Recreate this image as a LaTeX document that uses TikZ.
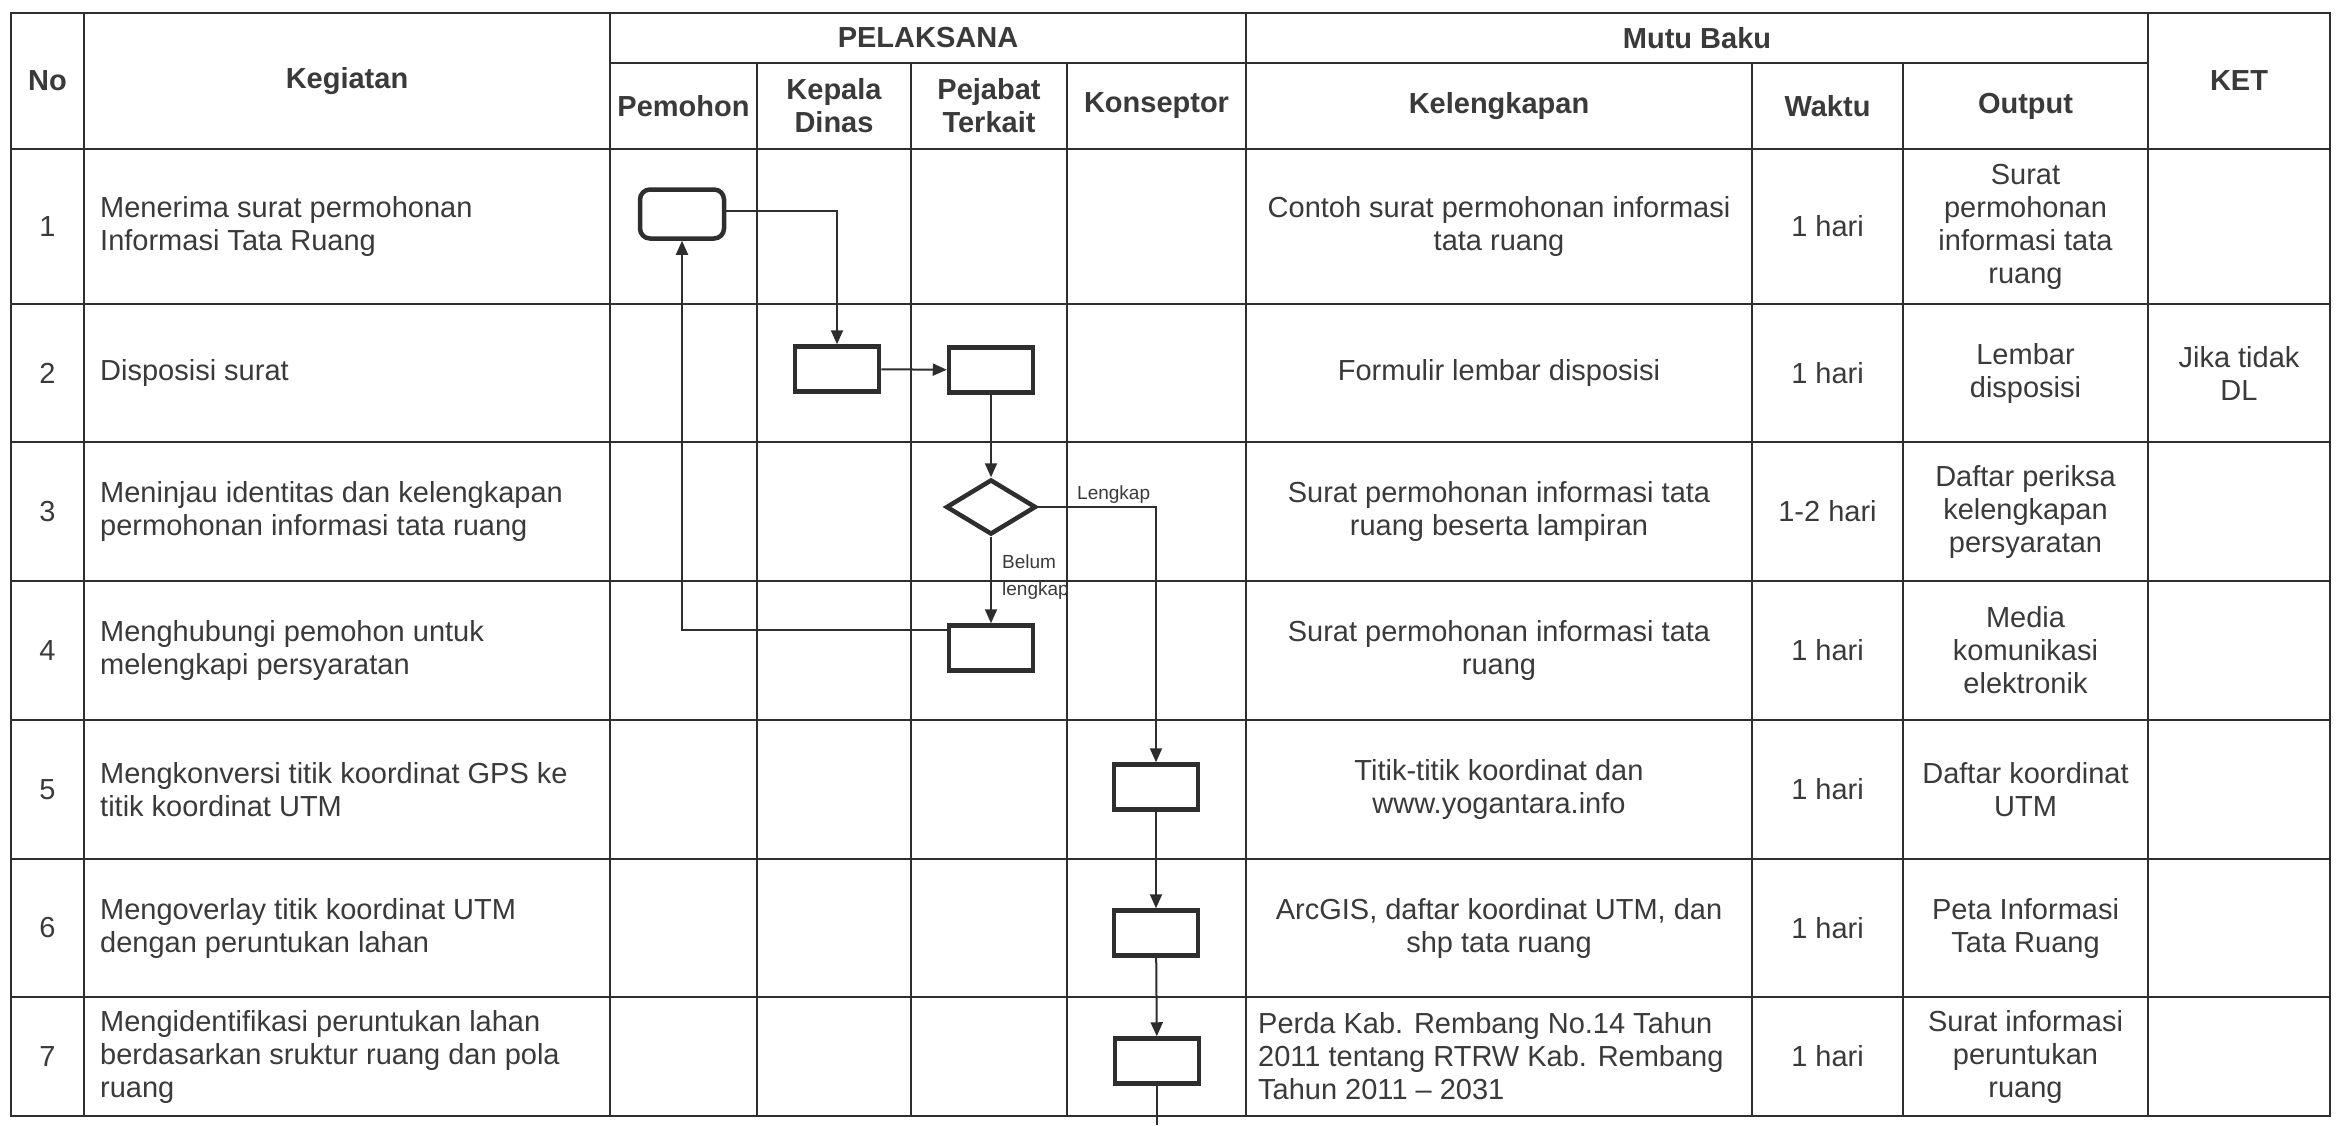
\documentclass[tikz,border=0pt]{standalone}
\usepackage{fontspec}
\setmainfont{Liberation Sans}
\usetikzlibrary{arrows.meta,shapes.geometric}
\definecolor{ink}{HTML}{2E2E2E}
\definecolor{txt}{HTML}{3A3A3A}
\begin{document}
\begin{tikzpicture}[x=1pt,y=-1pt,
  grid/.style={draw=ink,line width=2.5pt},
  cell/.style={text=txt,font=\fontsize{29}{33}\selectfont,align=center,inner sep=0pt},
  lcell/.style={cell,align=left,anchor=west},
  hcell/.style={text=txt,font=\fontsize{29}{33}\selectfont\bfseries,align=center,inner sep=0pt},
  proc/.style={draw=ink,line width=4.5pt,minimum width=84pt,minimum height=45pt,inner sep=0pt},
  rproc/.style={proc,rounded corners=10pt,minimum height=49pt},
  dec/.style={draw=ink,line width=4.5pt,diamond,minimum width=90pt,minimum height=55pt,inner sep=0pt},
  flow/.style={draw=ink,line width=2pt,-{Triangle[length=14pt,width=12pt]}},
  plain/.style={draw=ink,line width=2pt},
  lbl/.style={text=txt,font=\fontsize{19}{27}\selectfont,inner sep=0pt,align=left}
]
\fill[white] (0,0) rectangle (2347,1125);
\path[use as bounding box] (0,0) rectangle (2347,1125);

% ---------- grid ----------
\draw[grid,line join=miter] (11,13) rectangle (2330,1116);
\draw[grid] (610,63) -- (2148,63);
\foreach \yy in {149,304,442,581,720,859,997}
  \draw[grid] (11,\yy) -- (2330,\yy);
\foreach \xx in {84,610,1246,2148}
  \draw[grid] (\xx,13) -- (\xx,1116);
\foreach \xx in {757,911,1067,1752,1903}
  \draw[grid] (\xx,63) -- (\xx,1116);

% ---------- header ----------
\node[hcell] (hno) at (47.5,81) {No};
\node[hcell] (hkeg) at (347,81) {Kegiatan};
\node[hcell] (hpel) at (928,38) {PELAKSANA};
\node[hcell] (hpem) at (683.5,106) {Pemohon};
\node[hcell] (hkep) at (834,106) {Kepala\\Dinas};
\node[hcell] (hpej) at (989,106) {Pejabat\\Terkait};
\node[hcell] (hkon) at (1156.5,106) {Konseptor};
\node[hcell] (hmutu) at (1697,38) {Mutu Baku};
\node[hcell] (hkel) at (1499,106) {Kelengkapan};
\node[hcell] (hwak) at (1827.5,106) {Waktu};
\node[hcell] (hout) at (2025.5,106) {Output};
\node[hcell] (hket) at (2239,81) {KET};

% ---------- row numbers ----------
\node[cell] (n1) at (47.5,226.5) {1};
\node[cell] (n2) at (47.5,373) {2};
\node[cell] (n3) at (47.5,511.5) {3};
\node[cell] (n4) at (47.5,650.5) {4};
\node[cell] (n5) at (47.5,789.5) {5};
\node[cell] (n6) at (47.5,928) {6};
\node[cell] (n7) at (47.5,1056.5) {7};

% ---------- Kegiatan ----------
\node[lcell] (k1) at (100,226.5) {Menerima surat permohonan\\Informasi Tata Ruang};
\node[lcell] (k2) at (100,373) {Disposisi surat};
\node[lcell] (k3) at (100,511.5) {Meninjau identitas dan kelengkapan\\permohonan informasi tata ruang};
\node[lcell] (k4) at (100,650.5) {Menghubungi pemohon untuk\\melengkapi persyaratan};
\node[lcell] (k5) at (100,789.5) {Mengkonversi titik koordinat GPS ke\\titik koordinat UTM};
\node[lcell] (k6) at (100,928) {Mengoverlay titik koordinat UTM\\dengan peruntukan lahan};
\node[lcell] (k7) at (100,1056.5) {Mengidentifikasi peruntukan lahan\\berdasarkan sruktur ruang dan pola\\ruang};

% ---------- Kelengkapan ----------
\node[cell] (l1) at (1499,226.5) {Contoh surat permohonan informasi\\tata ruang};
\node[cell] (l2) at (1499,373) {Formulir lembar disposisi};
\node[cell] (l3) at (1499,511.5) {Surat permohonan informasi tata\\ruang beserta lampiran};
\node[cell] (l4) at (1499,650.5) {Surat permohonan informasi tata\\ruang};
\node[cell] (l5) at (1499,789.5) {Titik-titik koordinat dan\\www.yogantara.info};
\node[cell] (l6) at (1499,928) {ArcGIS, daftar koordinat UTM, dan\\shp tata ruang};
\node[lcell] (l7) at (1258,1056.5) {Perda Kab. Rembang No.14 Tahun\\2011 tentang RTRW Kab. Rembang\\Tahun 2011 -- 2031};

% ---------- Waktu ----------
\node[cell] (w1) at (1827.5,226.5) {1 hari};
\node[cell] (w2) at (1827.5,373) {1 hari};
\node[cell] (w3) at (1827.5,511.5) {1-2 hari};
\node[cell] (w4) at (1827.5,650.5) {1 hari};
\node[cell] (w5) at (1827.5,789.5) {1 hari};
\node[cell] (w6) at (1827.5,928) {1 hari};
\node[cell] (w7) at (1827.5,1056.5) {1 hari};

% ---------- Output ----------
\node[cell] (o1) at (2025.5,226.5) {Surat\\permohonan\\informasi tata\\ruang};
\node[cell] (o2) at (2025.5,373) {Lembar\\disposisi};
\node[cell] (o3) at (2025.5,511.5) {Daftar periksa\\kelengkapan\\persyaratan};
\node[cell] (o4) at (2025.5,650.5) {Media\\komunikasi\\elektronik};
\node[cell] (o5) at (2025.5,789.5) {Daftar koordinat\\UTM};
\node[cell] (o6) at (2025.5,928) {Peta Informasi\\Tata Ruang};
\node[cell] (o7) at (2025.5,1056.5) {Surat informasi\\peruntukan\\ruang};

% ---------- KET ----------
\node[cell] (ket2) at (2239,373) {Jika tidak\\DL};

% ---------- flow shapes ----------
\node[rproc] (b1) at (682,214) {};
\node[proc] (b2) at (837,369) {};
\node[proc] (b3) at (991,370) {};
\node[dec] (d1) at (991,507) {};
\node[proc] (b4) at (991,648) {};
\node[proc] (b5) at (1156,787) {};
\node[proc] (b6) at (1156,933) {};
\node[proc] (b7) at (1157,1061) {};
\coordinate (tail) at (1157,1125);

% ---------- connectors ----------
\draw[flow] ([yshift=3pt]b1.east) -| (b2.north);
\draw[flow] (b2) -- (b3);
\draw[flow] (b3) -- (d1);
\draw[flow] (d1) -- (b4);
\draw[flow] (d1.east) -| (b5.north);
\draw[flow] ([yshift=18pt]b4.west) -| (b1.south);
\draw[flow] (b5) -- (b6);
\draw[flow] (b6) -- (b7);
\draw[plain] (b7.south) -- (tail);

% ---------- labels ----------
\node[lbl,anchor=base west] (llengkap) at (1077,499) {Lengkap};
\node[lbl,anchor=north west] (lbelum) at (1002,555) {Belum\\lengkap};
\end{tikzpicture}
\end{document}
